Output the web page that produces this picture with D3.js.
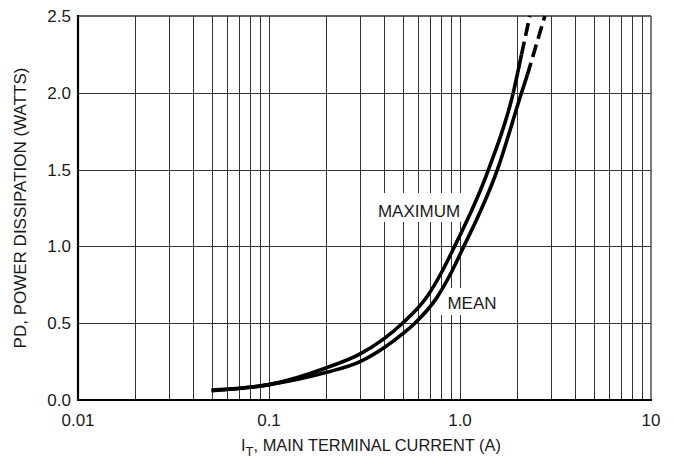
<!DOCTYPE html>
<html><head><meta charset="utf-8">
<script src="https://cdn.jsdelivr.net/npm/d3@7"></script>
<style>
html,body{margin:0;padding:0;background:#fff;}
svg{display:block;font-family:"Liberation Sans",Arial,sans-serif;}
</style></head>
<body>
<svg id="chart" width="673" height="463"></svg>
<script>
// ---- data ----
const xTickValues = [0.01, 0.1, 1, 10];
const xTickLabels = ["0.01", "0.1", "1.0", "10"];
const yTickValues = [0, 0.5, 1.0, 1.5, 2.0, 2.5];
const yTickLabels = ["0.0", "0.5", "1.0", "1.5", "2.0", "2.5"];

const maxCurrent = [0.05, 0.1, 0.2, 0.3, 0.5, 0.67, 0.8, 0.92, 1.41, 1.9, 2.1, 2.32];
const maxPower   = [0.065, 0.1, 0.21, 0.3, 0.5, 0.67, 0.83, 0.98, 1.5, 2.0, 2.25, 2.5];
const maxDashFrom = 2.1; // current where dashed extrapolation starts

const meanCurrent = [0.05, 0.1, 0.2, 0.3, 0.4, 0.5, 0.58, 0.75, 0.9, 1.02, 1.57, 2.1, 2.25, 2.78];
const meanPower   = [0.06, 0.1, 0.18, 0.25, 0.34, 0.43, 0.5, 0.66, 0.83, 0.97, 1.5, 2.0, 2.115, 2.5];
const meanDashFrom = 2.25;

const curveLabels = ["MAXIMUM", "MEAN"];
const yAxisTitle = "PD, POWER DISSIPATION (WATTS)";
const xAxisTitleMain = "I";
const xAxisTitleSub = "T";
const xAxisTitleRest = ", MAIN TERMINAL CURRENT (A)";

// ---- layout ----
const svg = d3.select("#chart");
const L = 78, R = 651, T = 16, B = 400;
const x = d3.scaleLog().domain([0.01, 10]).range([L, R]);
const y = d3.scaleLinear().domain([0, 2.5]).range([B, T]);
const ink = "#1a1a1a";
const fs = 17;

// grid: minor/major vertical lines
const vGrid = [];
[0.01, 0.1, 1].forEach(d => { for (let k = 2; k <= 9; k++) vGrid.push(d * k); });
vGrid.push(0.1, 1);
svg.append("g").selectAll("line").data(vGrid).join("line")
  .attr("x1", d => Math.round(x(d)) + 0.5).attr("x2", d => Math.round(x(d)) + 0.5)
  .attr("y1", T).attr("y2", B)
  .attr("stroke", "#333").attr("stroke-width", 1);
svg.append("g").selectAll("line").data(yTickValues.filter(v => v > 0 && v < 2.5)).join("line")
  .attr("x1", L).attr("x2", R)
  .attr("y1", d => Math.round(y(d)) + 0.5).attr("y2", d => Math.round(y(d)) + 0.5)
  .attr("stroke", "#333").attr("stroke-width", 1);

// frame top/right
svg.append("line").attr("x1", L).attr("x2", R).attr("y1", T).attr("y2", T).attr("stroke", "#333").attr("stroke-width", 1.4);
svg.append("line").attr("x1", R).attr("x2", R).attr("y1", T).attr("y2", B).attr("stroke", "#444").attr("stroke-width", 1.4);

// label backgrounds (interrupt grid)
const labelBoxes = [
  {text: curveLabels[0], bx: 372, by: 193, bw: 91, bh: 29, tx: 419, ty: 217},
  {text: curveLabels[1], bx: 440, by: 288, bw: 60, bh: 27, tx: 472, ty: 309}
];

// curves
function split(xs, ys, from) {
  const solid = [], dash = [];
  xs.forEach((v, i) => {
    if (v <= from) solid.push([v, ys[i]]);
    if (v >= from) dash.push([v, ys[i]]);
  });
  return {solid, dash};
}
const line = d3.line().x(d => x(d[0])).y(d => y(d[1])).curve(d3.curveMonotoneX);
svg.append("g").selectAll("rect").data(labelBoxes).join("rect")
  .attr("x", d => d.bx).attr("y", d => d.by).attr("width", d => d.bw).attr("height", d => d.bh)
  .attr("fill", "#fff");

[[maxCurrent, maxPower, maxDashFrom], [meanCurrent, meanPower, meanDashFrom]].forEach(([xs, ys, f]) => {
  const s = split(xs, ys, f);
  svg.append("path").attr("d", line(s.solid)).attr("fill", "none")
    .attr("stroke", "#000").attr("stroke-width", 3.6).attr("stroke-linejoin", "round");
  svg.append("path").attr("d", line(s.dash)).attr("fill", "none")
    .attr("stroke", "#000").attr("stroke-width", 3.6).attr("stroke-dasharray", "13,6");
});

svg.append("g").selectAll("text").data(labelBoxes).join("text")
  .attr("x", d => d.tx).attr("y", d => d.ty).attr("text-anchor", "middle")
  .attr("font-size", fs).attr("fill", ink).text(d => d.text);

// axes (left/bottom thick)
svg.append("line").attr("x1", L).attr("x2", L).attr("y1", T - 1).attr("y2", B + 1).attr("stroke", "#000").attr("stroke-width", 2.2);
svg.append("line").attr("x1", L - 1).attr("x2", R + 1).attr("y1", B).attr("y2", B).attr("stroke", "#000").attr("stroke-width", 2.2);

// tick labels
svg.append("g").selectAll("text").data(yTickValues).join("text")
  .attr("x", 71).attr("y", d => y(d)).attr("dy", "0.35em").attr("text-anchor", "end")
  .attr("font-size", fs).attr("fill", ink).text((d, i) => yTickLabels[i]);
svg.append("g").selectAll("text").data(xTickValues).join("text")
  .attr("x", d => x(d)).attr("y", 426).attr("text-anchor", "middle")
  .attr("font-size", fs).attr("fill", ink).text((d, i) => xTickLabels[i]);

// axis titles
svg.append("text").attr("transform", `translate(26,${(T + B) / 2}) rotate(-90)`)
  .attr("text-anchor", "middle").attr("font-size", fs).attr("fill", ink).text(yAxisTitle);
const xt = svg.append("text").attr("x", 371).attr("y", 451).attr("text-anchor", "middle")
  .attr("font-size", 16.4).attr("fill", ink);
xt.append("tspan").text(xAxisTitleMain);
xt.append("tspan").attr("dy", 5).attr("font-size", 13).text(xAxisTitleSub);
xt.append("tspan").attr("dy", -5).text(xAxisTitleRest);
</script>
</body></html>
